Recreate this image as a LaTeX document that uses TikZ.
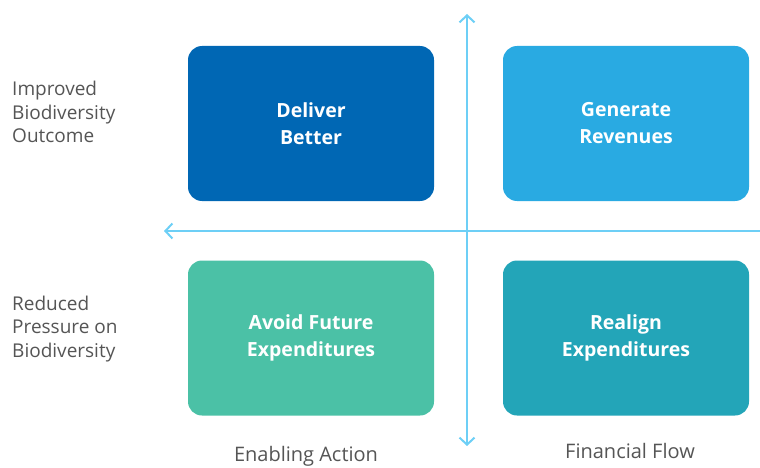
\documentclass[tikz,border=0pt]{standalone}
\usepackage{fontspec}
\setmainfont{Open Sans}
\usetikzlibrary{arrows.meta}
\definecolor{cDeliver}{HTML}{0067B4}
\definecolor{cGen}{HTML}{29AAE2}
\definecolor{cAvoid}{HTML}{4BC1A6}
\definecolor{cRealign}{HTML}{23A5B8}
\definecolor{cAxis}{HTML}{6DCFF6}
\definecolor{cText}{HTML}{555555}
\tikzset{
  quad/.style={rounded corners=14pt, minimum width=246pt, minimum height=155pt, inner sep=0pt,
    text=white, align=center, font=\fontsize{19.5}{27}\selectfont\bfseries},
  axis/.style={draw=cAxis, line width=2pt, -{Straight Barb[length=7pt,width=15pt,line width=2pt]}},
  side/.style={text=cText, align=left, anchor=west, inner sep=0pt, font=\fontsize{19}{23.5}\selectfont},
  bottom/.style={text=cText, inner sep=0pt, font=\fontsize{20}{23.5}\selectfont}
}
\begin{document}
\begin{tikzpicture}[x=1pt,y=-1pt]
\useasboundingbox (0,0) rectangle (760,468);
\node[quad, fill=cDeliver] (db) at (311,123.5) {Deliver\\Better};
\node[quad, fill=cGen] (gr) at (626,123.5) {Generate\\Revenues};
\node[quad, fill=cAvoid] (av) at (311,338) {Avoid Future\\Expenditures};
\node[quad, fill=cRealign] (re) at (626,338) {Realign\\Expenditures};
\coordinate (vtop) at (467,14);
\coordinate (vbot) at (467,446);
\coordinate (hl) at (164,231);
\coordinate (hr) at (760,231);
\coordinate (vmid) at (467,231);
\draw[axis] (vmid) -- (vtop);
\draw[axis] (vmid) -- (vbot);
\draw[axis] (hr) -- (hl);
\node[side] (l1) at (12,112) {Improved\\Biodiversity\\Outcome};
\node[side] (l2) at (12,329) {Reduced\\Pressure on\\Biodiversity};
\node[bottom] (b1) at (306,456) {Enabling Action};
\node[bottom] (b2) at (630,451) {Financial Flow};
\end{tikzpicture}
\end{document}
